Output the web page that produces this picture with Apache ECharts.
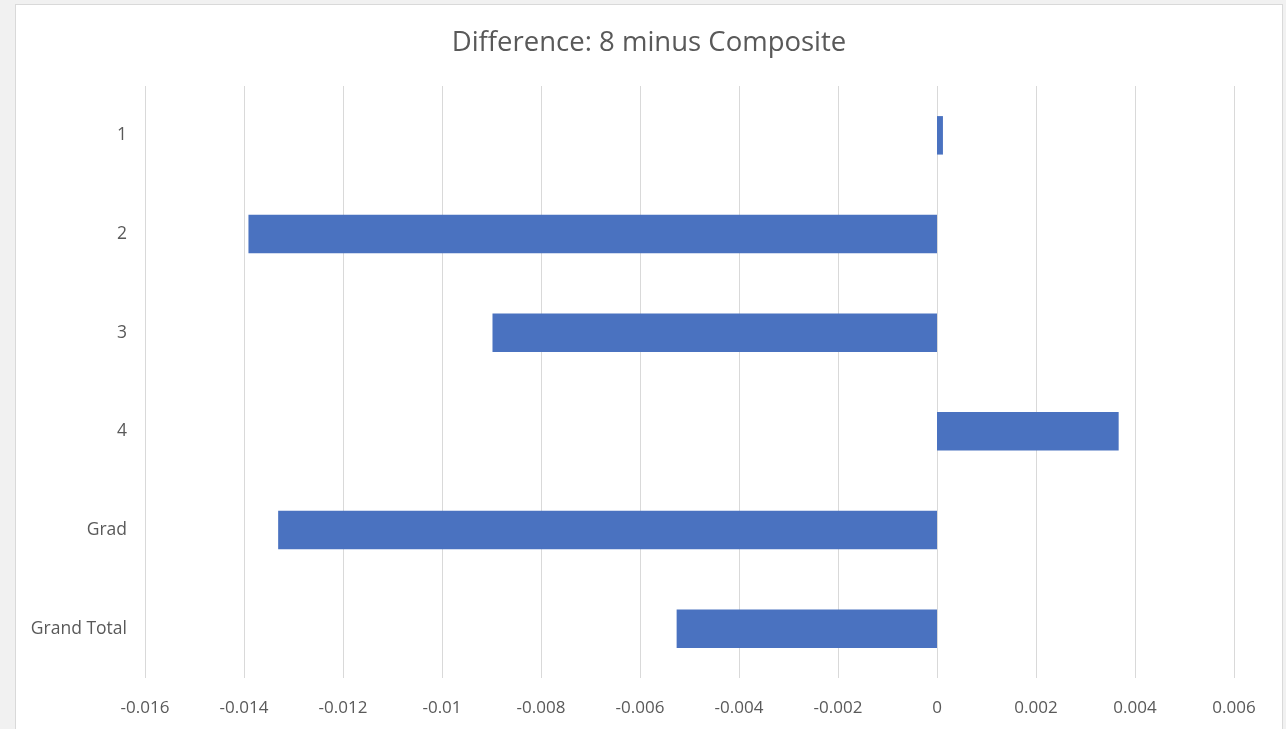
<!DOCTYPE html>
<html>
<head>
<meta charset="utf-8">
<script src="https://cdn.jsdelivr.net/npm/echarts@6/dist/echarts.min.js"></script>
<style>
  html, body { margin: 0; padding: 0; width: 1286px; height: 729px; overflow: hidden; background: #f1f1f1; }
  #frame { position: absolute; left: 15px; top: 4px; width: 1266px; height: 730px; background: #ffffff; border: 1px solid #d9d9d9; }
  #chart { width: 1266px; height: 725px; }
</style>
</head>
<body>
<div id="frame"><div id="chart"></div></div>
<script>
// Category rows, top to bottom
const categories = ['1', '2', '3', '4', 'Grad', 'Grand Total'];
// 8 minus Composite difference for each row
const differences = [0.00012, -0.01391, -0.00898, 0.00367, -0.01331, -0.00526];
// Value axis range and step
const axisMin = -0.016;
const axisMax = 0.006;
const axisStep = 0.002;

const chart = echarts.init(document.getElementById('chart'));
chart.setOption({
  animation: false,
  title: {
    text: 'Difference: 8 minus Composite',
    left: 'center',
    top: 19,
    textStyle: { fontFamily: 'Open Sans', fontSize: 27.5, fontWeight: 'normal', color: '#595959' }
  },
  grid: { left: 129, right: 48, top: 81, bottom: 52 },
  xAxis: {
    type: 'value',
    min: axisMin,
    max: axisMax,
    interval: axisStep,
    axisLine: { show: false },
    axisTick: { show: false },
    splitLine: { lineStyle: { color: '#d9d9d9', width: 1 } },
    axisLabel: {
      margin: 22,
      color: '#595959',
      fontFamily: 'Open Sans',
      fontSize: 17,
      formatter: v => String(parseFloat(v.toFixed(3)))
    }
  },
  yAxis: {
    type: 'category',
    inverse: true,
    data: categories,
    axisLine: { show: false },
    axisTick: { show: false },
    axisLabel: { margin: 18, color: '#595959', fontFamily: 'Open Sans', fontSize: 17.5 }
  },
  series: [{
    type: 'bar',
    data: differences,
    barWidth: '39%',
    itemStyle: { color: '#4a72c0' }
  }]
});
</script>
</body>
</html>
